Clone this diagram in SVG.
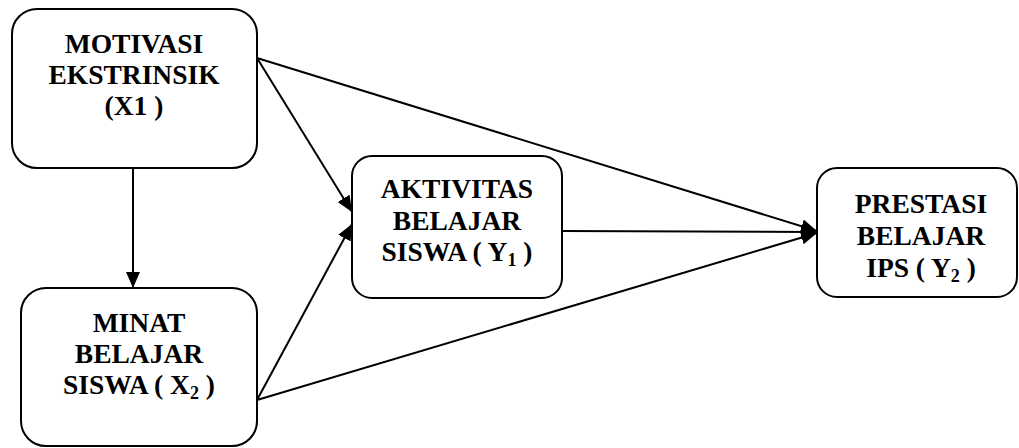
<svg xmlns="http://www.w3.org/2000/svg" width="1019" height="448" viewBox="0 0 1019 448">
<style>
.box{fill:#fff;stroke:#000;stroke-width:2}
.t{font-family:"Liberation Serif","Times New Roman",serif;font-weight:bold;font-size:27.5px;text-anchor:middle;fill:#000}
.sub{font-size:18px}
.c{stroke:#000;stroke-width:2;fill:none;marker-end:url(#ah)}
</style>
<defs>
<marker id="ah" markerUnits="userSpaceOnUse" markerWidth="18" markerHeight="16" refX="16" refY="7" orient="auto">
<path d="M0,0 L16,7 L0,14 Z" fill="#000"/>
</marker>
</defs>
<rect width="1019" height="448" fill="#fff"/>
<g id="connectors">
<line class="c" x1="133" y1="168" x2="133" y2="288"/>
<line class="c" x1="257" y1="58" x2="352" y2="212"/>
<line class="c" x1="257" y1="400" x2="352" y2="224"/>
<line class="c" x1="257" y1="58" x2="817" y2="231"/>
<line class="c" x1="257" y1="400" x2="817" y2="233"/>
<line class="c" x1="562" y1="231" x2="817" y2="232"/>
</g>
<g id="node-x1">
<rect class="box" x="12" y="9" width="245" height="159" rx="25"/>
<text class="t" x="134" y="53">MOTIVASI</text>
<text class="t" x="134" y="84">EKSTRINSIK</text>
<text class="t" x="134" y="115">(X1 )</text>
</g>
<g id="node-x2">
<rect class="box" x="21" y="288" width="236" height="158" rx="25"/>
<text class="t" x="139" y="332">MINAT</text>
<text class="t" x="139" y="363">BELAJAR</text>
<text class="t" x="139" y="394">SISWA ( X<tspan class="sub" dy="5">2</tspan><tspan dy="-5"> )</tspan></text>
</g>
<g id="node-y1">
<rect class="box" x="352" y="156" width="210" height="142" rx="20"/>
<text class="t" x="457" y="198">AKTIVITAS</text>
<text class="t" x="457" y="230">BELAJAR</text>
<text class="t" x="457" y="261">SISWA ( Y<tspan class="sub" dy="5">1</tspan><tspan dy="-5"> )</tspan></text>
</g>
<g id="node-y2">
<rect class="box" x="817" y="168" width="200" height="129" rx="20"/>
<text class="t" x="921" y="213">PRESTASI</text>
<text class="t" x="921" y="245">BELAJAR</text>
<text class="t" x="921" y="277">IPS ( Y<tspan class="sub" dy="5">2</tspan><tspan dy="-5"> )</tspan></text>
</g>
</svg>
